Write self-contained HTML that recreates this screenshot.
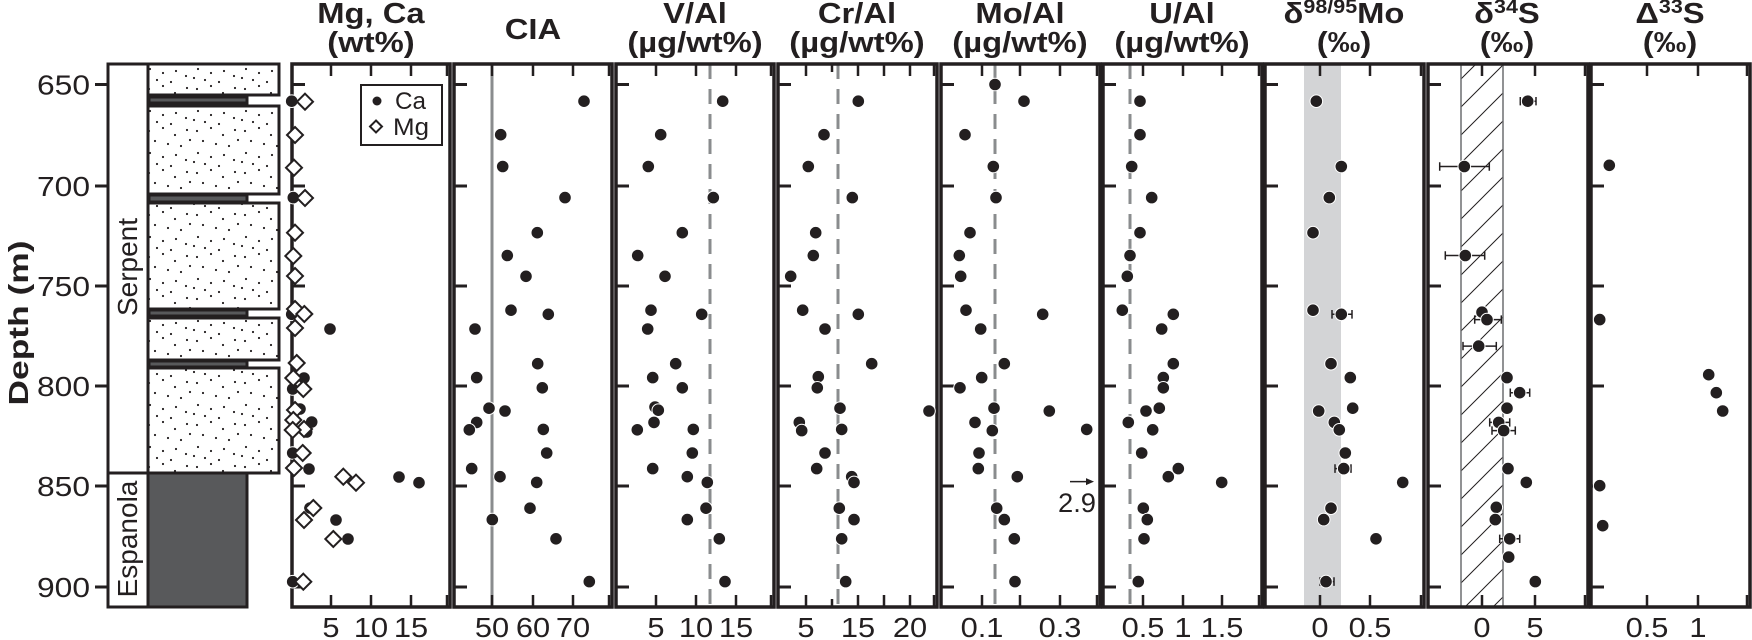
<!DOCTYPE html>
<html><head><meta charset="utf-8"><style>
html,body{margin:0;padding:0;background:#fff;}
svg{display:block;}
text{font-family:"Liberation Sans",Arial,sans-serif;fill:#231f20;}
.t{font-weight:bold;font-size:29px;text-anchor:middle;transform-box:fill-box;transform-origin:center;transform:scaleX(1.13);}
.tk text{font-size:28px;text-anchor:middle;transform-box:fill-box;transform-origin:center;transform:scaleX(1.1);}
.d{fill:#231f20;stroke:#fff;stroke-width:1;}
.m{fill:#fff;stroke:#231f20;stroke-width:2;}
.fr{fill:none;stroke:#231f20;stroke-width:3.5;}
.tick{stroke:#231f20;stroke-width:3;}
.dash{stroke:#8a8c8e;stroke-width:3;stroke-dasharray:15 10;}
.eb{stroke:#231f20;stroke-width:1.5;fill:none;}
</style></head><body>
<svg width="1752" height="640" viewBox="0 0 1752 640" xmlns="http://www.w3.org/2000/svg">
<defs>
<pattern id="dots" width="48" height="42" patternUnits="userSpaceOnUse">
<g fill="#231f20">
<circle cx="5" cy="5" r="1.1"/><circle cx="19" cy="2" r="1.1"/><circle cx="31" cy="9" r="1.1"/><circle cx="43" cy="4" r="1.1"/>
<circle cx="11" cy="15" r="1.1"/><circle cx="24" cy="18" r="1.1"/><circle cx="37" cy="20" r="1.1"/><circle cx="46" cy="14" r="1.1"/>
<circle cx="6" cy="27" r="1.1"/><circle cx="19" cy="31" r="1.1"/><circle cx="32" cy="29" r="1.1"/><circle cx="42" cy="34" r="1.1"/>
<circle cx="13" cy="38" r="1.1"/><circle cx="27" cy="40" r="1.1"/><circle cx="2" cy="36" r="1.1"/>
</g></pattern>
<pattern id="hatch" width="28" height="28" patternUnits="userSpaceOnUse">
<path d="M-7,7 L7,-7 M0,28 L28,0 M21,35 L35,21" stroke="#231f20" stroke-width="1"/>
</pattern>
</defs>

<!-- Depth axis -->
<text x="28" y="323" transform="rotate(-90 28 323)" font-weight="bold" font-size="28" text-anchor="middle" textLength="165" lengthAdjust="spacingAndGlyphs">Depth (m)</text>
<g font-size="28">
<text x="90" y="94.5" textLength="53" lengthAdjust="spacingAndGlyphs" text-anchor="end">650</text>
<text x="90" y="196" textLength="53" lengthAdjust="spacingAndGlyphs" text-anchor="end">700</text>
<text x="90" y="296" textLength="53" lengthAdjust="spacingAndGlyphs" text-anchor="end">750</text>
<text x="90" y="396" textLength="53" lengthAdjust="spacingAndGlyphs" text-anchor="end">800</text>
<text x="90" y="496" textLength="53" lengthAdjust="spacingAndGlyphs" text-anchor="end">850</text>
<text x="90" y="597" textLength="53" lengthAdjust="spacingAndGlyphs" text-anchor="end">900</text>
</g>
<g class="tick">
<line x1="95" y1="84.5" x2="108" y2="84.5"/><line x1="95" y1="186" x2="108" y2="186"/><line x1="95" y1="286" x2="108" y2="286"/>
<line x1="95" y1="386" x2="108" y2="386"/><line x1="95" y1="486" x2="108" y2="486"/><line x1="95" y1="587" x2="108" y2="587"/>
</g>

<!-- Lithology -->
<g stroke="#231f20" stroke-width="3">
<rect x="108" y="64" width="40" height="543" fill="#fff"/>
<line x1="108" y1="473" x2="148" y2="473"/>
<rect x="148" y="64" width="131" height="31" fill="url(#dots)"/>
<rect x="149" y="97" width="98" height="6" fill="#58595b"/>
<rect x="148" y="106" width="131" height="88" fill="url(#dots)"/>
<rect x="149" y="195" width="98" height="7" fill="#58595b"/>
<rect x="148" y="203" width="131" height="106" fill="url(#dots)"/>
<rect x="149" y="310" width="98" height="6" fill="#58595b"/>
<rect x="148" y="318" width="131" height="42" fill="url(#dots)"/>
<rect x="149" y="361" width="98" height="6" fill="#58595b"/>
<rect x="148" y="368" width="131" height="105" fill="url(#dots)"/>
<rect x="148" y="473" width="99" height="134" fill="#58595b"/>
</g>
<text x="137" y="267" transform="rotate(-90 137 267)" font-size="28" text-anchor="middle">Serpent</text>
<text x="137" y="539" transform="rotate(-90 137 539)" font-size="28" text-anchor="middle">Espanola</text>

<!-- Titles -->
<text class="t" x="371" y="23">Mg, Ca</text><text class="t" x="371" y="52">(wt%)</text>
<text class="t" x="533" y="39">CIA</text>
<text class="t" x="695" y="23">V/Al</text><text class="t" x="695" y="52">(µg/wt%)</text>
<text class="t" x="857" y="23">Cr/Al</text><text class="t" x="857" y="52">(µg/wt%)</text>
<text class="t" x="1020" y="23">Mo/Al</text><text class="t" x="1020" y="52">(µg/wt%)</text>
<text class="t" x="1182" y="23">U/Al</text><text class="t" x="1182" y="52">(µg/wt%)</text>
<text class="t" x="1344" y="23">δ<tspan font-size="19" dy="-10">98/95</tspan><tspan dy="10">Mo</tspan></text><text class="t" x="1344" y="52">(‰)</text>
<text class="t" x="1507" y="23">δ<tspan font-size="19" dy="-10">34</tspan><tspan dy="10">S</tspan></text><text class="t" x="1507" y="52">(‰)</text>
<text class="t" x="1670" y="23">Δ<tspan font-size="19" dy="-10">33</tspan><tspan dy="10">S</tspan></text><text class="t" x="1670" y="52">(‰)</text>

<!-- Backgrounds: bands -->
<rect x="1304" y="64" width="37" height="543" fill="#d3d4d6"/>
<rect x="1461" y="64" width="42" height="543" fill="url(#hatch)"/>
<line x1="1461" y1="64" x2="1461" y2="607" stroke="#6d6e71" stroke-width="1.5"/>
<line x1="1503" y1="64" x2="1503" y2="607" stroke="#6d6e71" stroke-width="1.5"/>
<line x1="492" y1="64" x2="492" y2="607" stroke="#8a8c8e" stroke-width="3"/>
<line class="dash" x1="710" y1="64" x2="710" y2="607"/>
<line class="dash" x1="838" y1="64" x2="838" y2="607"/>
<line class="dash" x1="995" y1="64" x2="995" y2="607"/>
<line class="dash" x1="1130" y1="64" x2="1130" y2="607"/>

<!-- Frames -->
<g class="fr">
<rect x="292" y="64" width="158" height="543"/>
<rect x="454" y="64" width="158" height="543"/>
<rect x="616" y="64" width="158" height="543"/>
<rect x="778" y="64" width="159" height="543"/>
<rect x="941" y="64" width="159" height="543"/>
<rect x="1103" y="64" width="159" height="543"/>
<rect x="1265" y="64" width="159" height="543"/>
<rect x="1428" y="64" width="160" height="543"/>
<rect x="1591" y="64" width="159" height="543"/>
</g>

<!-- y ticks inside panels -->
<path d="M292,84.5h13M292,186h13M292,286h13M292,386h13M292,486h13M292,587h13
M454,84.5h13M454,186h13M454,286h13M454,386h13M454,486h13M454,587h13
M616,84.5h13M616,186h13M616,286h13M616,386h13M616,486h13M616,587h13
M778,84.5h13M778,186h13M778,286h13M778,386h13M778,486h13M778,587h13
M941,84.5h13M941,186h13M941,286h13M941,386h13M941,486h13M941,587h13
M1103,84.5h13M1103,186h13M1103,286h13M1103,386h13M1103,486h13M1103,587h13
M1265,84.5h13M1265,186h13M1265,286h13M1265,386h13M1265,486h13M1265,587h13
M1428,84.5h13M1428,186h13M1428,286h13M1428,386h13M1428,486h13M1428,587h13
M1591,84.5h13M1591,186h13M1591,286h13M1591,386h13M1591,486h13M1591,587h13" stroke="#231f20" stroke-width="3"/>
<!-- x ticks top & bottom -->
<path stroke="#231f20" stroke-width="2.5" d="
M331,64v12M371,64v12M411,64v12M447,64v12M331,607v-12M371,607v-12M411,607v-12M447,607v-12
M492,64v12M533,64v12M573,64v12M609,64v12M492,607v-12M533,607v-12M573,607v-12M609,607v-12
M656,64v12M696,64v12M736,64v12M771,64v12M656,607v-12M696,607v-12M736,607v-12M771,607v-12
M806,64v12M832,64v8M858,64v12M884,64v12M910,64v12M934,64v12M806,607v-12M832,607v-8M858,607v-12M884,607v-12M910,607v-12M934,607v-12
M982,64v12M1020,64v12M1060,64v12M1097,64v12M982,607v-12M1020,607v-12M1060,607v-12M1097,607v-12
M1143,64v12M1183,64v12M1222,64v12M1259,64v12M1143,607v-12M1183,607v-12M1222,607v-12M1259,607v-12
M1320,64v12M1370,64v12M1421,64v12M1320,607v-12M1370,607v-12M1421,607v-12
M1482,64v12M1535,64v12M1585,64v12M1482,607v-12M1535,607v-12M1585,607v-12
M1647,64v12M1698,64v12M1747,64v12M1647,607v-12M1698,607v-12M1747,607v-12"/>

<!-- x tick labels -->
<g class="tk">
<text x="331" y="637">5</text><text x="371" y="637">10</text><text x="411" y="637">15</text>
<text x="492" y="637">50</text><text x="533" y="637">60</text><text x="573" y="637">70</text>
<text x="656" y="637">5</text><text x="696" y="637">10</text><text x="736" y="637">15</text>
<text x="806" y="637">5</text><text x="858" y="637">15</text><text x="910" y="637">20</text>
<text x="982" y="637">0.1</text><text x="1060" y="637">0.3</text>
<text x="1143" y="637">0.5</text><text x="1183" y="637">1</text><text x="1222" y="637">1.5</text>
<text x="1320" y="637">0</text><text x="1370" y="637">0.5</text>
<text x="1482" y="637">0</text><text x="1535" y="637">5</text>
<text x="1647" y="637">0.5</text><text x="1698" y="637">1</text>
</g>

<!-- Panel 1 -->
<g class="d">
<circle cx="291.7" cy="101.2" r="6.3"/><circle cx="293.3" cy="197.6" r="6.3"/><circle cx="291.7" cy="314.3" r="6.3"/><circle cx="330" cy="329" r="6.3"/>
<circle cx="292.7" cy="389" r="6.3"/><circle cx="304" cy="378" r="6.3"/><circle cx="300" cy="409" r="6.3"/><circle cx="311.7" cy="422" r="6.3"/>
<circle cx="306.7" cy="432" r="6.3"/><circle cx="292.7" cy="453" r="6.3"/><circle cx="309" cy="469" r="6.3"/><circle cx="399" cy="477" r="6.3"/>
<circle cx="419" cy="482.7" r="6.3"/><circle cx="310" cy="508" r="6.3"/><circle cx="336" cy="520" r="6.3"/><circle cx="348" cy="539" r="6.3"/>
<circle cx="292.7" cy="581.7" r="6.3"/>
</g>
<g class="m">
<path d="M305,93.7l8,8l-8,8l-8,-8z"/><path d="M295,127l8,8l-8,8l-8,-8z"/><path d="M294,159.7l8,8l-8,8l-8,-8z"/><path d="M305,190l8,8l-8,8l-8,-8z"/>
<path d="M295,224.7l8,8l-8,8l-8,-8z"/><path d="M293.3,248l8,8l-8,8l-8,-8z"/><path d="M295,268l8,8l-8,8l-8,-8z"/><path d="M295,301l8,8l-8,8l-8,-8z"/>
<path d="M304.3,306l8,8l-8,8l-8,-8z"/><path d="M295,320l8,8l-8,8l-8,-8z"/><path d="M296.7,355l8,8l-8,8l-8,-8z"/><path d="M293.3,370l8,8l-8,8l-8,-8z"/>
<path d="M303.3,381l8,8l-8,8l-8,-8z"/><path d="M295,402l8,8l-8,8l-8,-8z"/><path d="M293.3,412l8,8l-8,8l-8,-8z"/><path d="M304,421l8,8l-8,8l-8,-8z"/>
<path d="M292.7,422l8,8l-8,8l-8,-8z"/><path d="M302.7,445l8,8l-8,8l-8,-8z"/><path d="M294,460l8,8l-8,8l-8,-8z"/><path d="M343.3,468.7l8,8l-8,8l-8,-8z"/>
<path d="M356,474.7l8,8l-8,8l-8,-8z"/><path d="M313.3,500l8,8l-8,8l-8,-8z"/><path d="M304,512l8,8l-8,8l-8,-8z"/><path d="M333.3,531l8,8l-8,8l-8,-8z"/>
<path d="M303.3,573.7l8,8l-8,8l-8,-8z"/>
</g>
<!-- legend -->
<rect x="361" y="85" width="81" height="60" fill="#fff" stroke="#231f20" stroke-width="2"/>
<circle cx="377" cy="101" r="4.5" fill="#231f20"/>
<path d="M376,120.5l6,6l-6,6l-6,-6z" fill="#fff" stroke="#231f20" stroke-width="2"/>
<text x="395" y="109" font-size="24" textLength="31" lengthAdjust="spacingAndGlyphs">Ca</text>
<text x="393" y="135" font-size="24" textLength="36" lengthAdjust="spacingAndGlyphs">Mg</text>

<!-- Panel 2 -->
<g class="d">
<circle cx="584" cy="101.2" r="6.3"/><circle cx="500.7" cy="134.7" r="6.3"/><circle cx="502.7" cy="166.5" r="6.3"/><circle cx="565" cy="197.6" r="6.3"/>
<circle cx="537.3" cy="232.7" r="6.3"/><circle cx="507.3" cy="255.5" r="6.3"/><circle cx="526" cy="276.3" r="6.3"/><circle cx="511" cy="310.2" r="6.3"/>
<circle cx="548.3" cy="314.3" r="6.3"/><circle cx="475" cy="329" r="6.3"/><circle cx="537.7" cy="363.7" r="6.3"/><circle cx="476.7" cy="377.6" r="6.3"/>
<circle cx="542.3" cy="387.8" r="6.3"/><circle cx="489" cy="408.2" r="6.3"/><circle cx="505" cy="411" r="6.3"/><circle cx="476.7" cy="422.4" r="6.3"/>
<circle cx="469.3" cy="429.8" r="6.3"/><circle cx="543.3" cy="429.4" r="6.3"/><circle cx="546.7" cy="453" r="6.3"/><circle cx="471.7" cy="468.6" r="6.3"/>
<circle cx="500" cy="476.7" r="6.3"/><circle cx="536.7" cy="482.4" r="6.3"/><circle cx="530" cy="508.2" r="6.3"/><circle cx="492.3" cy="519.6" r="6.3"/>
<circle cx="556" cy="538.8" r="6.3"/><circle cx="589.3" cy="581.6" r="6.3"/>
</g>
<!-- Panel 3 -->
<g class="d">
<circle cx="722.7" cy="101.2" r="6.3"/><circle cx="660.7" cy="134.7" r="6.3"/><circle cx="648.3" cy="166.5" r="6.3"/><circle cx="713.3" cy="197.6" r="6.3"/>
<circle cx="682.3" cy="232.7" r="6.3"/><circle cx="637.7" cy="255.5" r="6.3"/><circle cx="665" cy="276.3" r="6.3"/><circle cx="651" cy="310.2" r="6.3"/>
<circle cx="701.7" cy="314.3" r="6.3"/><circle cx="647.7" cy="329" r="6.3"/><circle cx="675.7" cy="363.7" r="6.3"/><circle cx="652.7" cy="377.6" r="6.3"/>
<circle cx="682.3" cy="387.8" r="6.3"/><circle cx="655" cy="407" r="6.3"/><circle cx="658.3" cy="410.2" r="6.3"/><circle cx="654" cy="422.4" r="6.3"/>
<circle cx="637.3" cy="429.8" r="6.3"/><circle cx="693.3" cy="429.4" r="6.3"/><circle cx="692.3" cy="453" r="6.3"/><circle cx="652.7" cy="468.6" r="6.3"/>
<circle cx="687.3" cy="476.7" r="6.3"/><circle cx="707.3" cy="482.4" r="6.3"/><circle cx="706" cy="508.2" r="6.3"/><circle cx="687.3" cy="519.6" r="6.3"/>
<circle cx="719.3" cy="538.8" r="6.3"/><circle cx="725" cy="581.6" r="6.3"/>
</g>
<!-- Panel 4 -->
<g class="d">
<circle cx="858.3" cy="101.2" r="6.3"/><circle cx="824" cy="134.7" r="6.3"/><circle cx="808.3" cy="166.5" r="6.3"/><circle cx="852.3" cy="197.6" r="6.3"/>
<circle cx="815.7" cy="232.7" r="6.3"/><circle cx="813.3" cy="255.5" r="6.3"/><circle cx="790.7" cy="276.3" r="6.3"/><circle cx="802.7" cy="310.2" r="6.3"/>
<circle cx="858.3" cy="314.3" r="6.3"/><circle cx="825" cy="329" r="6.3"/><circle cx="871.7" cy="363.7" r="6.3"/><circle cx="818.3" cy="376.7" r="6.3"/>
<circle cx="817.3" cy="387.8" r="6.3"/><circle cx="840" cy="408.2" r="6.3"/><circle cx="929" cy="411" r="6.3"/><circle cx="799.3" cy="422.4" r="6.3"/>
<circle cx="801.7" cy="430.6" r="6.3"/><circle cx="841.7" cy="429.4" r="6.3"/><circle cx="825" cy="453" r="6.3"/><circle cx="816.7" cy="468.6" r="6.3"/>
<circle cx="851.7" cy="476.7" r="6.3"/><circle cx="854" cy="482.4" r="6.3"/><circle cx="839.3" cy="508.2" r="6.3"/><circle cx="854" cy="519.6" r="6.3"/>
<circle cx="841.7" cy="538.8" r="6.3"/><circle cx="845.7" cy="581.6" r="6.3"/>
</g>
<!-- Panel 5 -->
<g class="d">
<circle cx="995" cy="84.5" r="6.3"/><circle cx="1024" cy="101.2" r="6.3"/><circle cx="965" cy="134.7" r="6.3"/><circle cx="993.3" cy="166.5" r="6.3"/>
<circle cx="996" cy="197.6" r="6.3"/><circle cx="970" cy="232.7" r="6.3"/><circle cx="959.3" cy="255.5" r="6.3"/><circle cx="960.7" cy="276.3" r="6.3"/>
<circle cx="966" cy="310.2" r="6.3"/><circle cx="1042.7" cy="314.3" r="6.3"/><circle cx="980.7" cy="329" r="6.3"/><circle cx="1004.3" cy="363.7" r="6.3"/>
<circle cx="981.7" cy="377.6" r="6.3"/><circle cx="960" cy="387.8" r="6.3"/><circle cx="994" cy="408.2" r="6.3"/><circle cx="1049.3" cy="411" r="6.3"/>
<circle cx="975" cy="422.4" r="6.3"/><circle cx="992.3" cy="430.6" r="6.3"/><circle cx="1086.7" cy="429.4" r="6.3"/><circle cx="979" cy="453" r="6.3"/>
<circle cx="978.3" cy="468.6" r="6.3"/><circle cx="1017.3" cy="476.7" r="6.3"/><circle cx="996.7" cy="508.2" r="6.3"/><circle cx="1004.3" cy="519.6" r="6.3"/>
<circle cx="1014.3" cy="538.8" r="6.3"/><circle cx="1015" cy="581.6" r="6.3"/>
</g>
<line x1="1070" y1="481.6" x2="1088" y2="481.6" stroke="#231f20" stroke-width="1.5"/>
<path d="M1094,481.6l-8,-3.5v7z" fill="#231f20"/>
<text x="1077" y="512" font-size="27" text-anchor="middle" textLength="38" lengthAdjust="spacingAndGlyphs">2.9</text>
<!-- Panel 6 -->
<g class="d">
<circle cx="1140" cy="101.2" r="6.3"/><circle cx="1140" cy="134.7" r="6.3"/><circle cx="1131.7" cy="166.5" r="6.3"/><circle cx="1151.7" cy="197.6" r="6.3"/>
<circle cx="1140" cy="232.7" r="6.3"/><circle cx="1130" cy="255.5" r="6.3"/><circle cx="1127.3" cy="276.3" r="6.3"/><circle cx="1122.3" cy="310.2" r="6.3"/>
<circle cx="1173.3" cy="314.3" r="6.3"/><circle cx="1161.7" cy="329" r="6.3"/><circle cx="1173.3" cy="363.7" r="6.3"/><circle cx="1163.3" cy="377.6" r="6.3"/>
<circle cx="1163.3" cy="387.8" r="6.3"/><circle cx="1159.3" cy="408.2" r="6.3"/><circle cx="1146" cy="411" r="6.3"/><circle cx="1128.3" cy="422.4" r="6.3"/>
<circle cx="1152.7" cy="429.8" r="6.3"/><circle cx="1141.7" cy="453" r="6.3"/><circle cx="1178.3" cy="468.6" r="6.3"/><circle cx="1168.3" cy="476.7" r="6.3"/>
<circle cx="1221.7" cy="482.4" r="6.3"/><circle cx="1143.3" cy="508.2" r="6.3"/><circle cx="1147.3" cy="519.6" r="6.3"/><circle cx="1144" cy="538.8" r="6.3"/>
<circle cx="1138.3" cy="581.6" r="6.3"/>
</g>
<!-- Panel 7 -->
<path class="eb" d="M1332,314.3h20M1332,310v8.6M1352,310v8.6M1335,468.6h16M1335,464.3v8.6M1351,464.3v8.6M1320,581.6h14M1320,577.3v8.6M1334,577.3v8.6"/>
<g class="d">
<circle cx="1316.3" cy="101.2" r="6.3"/><circle cx="1341.3" cy="166.5" r="6.3"/><circle cx="1329.3" cy="197.6" r="6.3"/><circle cx="1313" cy="232.7" r="6.3"/>
<circle cx="1313" cy="310.2" r="6.3"/><circle cx="1341.3" cy="314.3" r="6.3"/><circle cx="1331" cy="363.7" r="6.3"/><circle cx="1350.3" cy="377.6" r="6.3"/>
<circle cx="1352.7" cy="408.2" r="6.3"/><circle cx="1318.7" cy="411" r="6.3"/><circle cx="1334.3" cy="422.4" r="6.3"/><circle cx="1339.3" cy="429.8" r="6.3"/>
<circle cx="1345.3" cy="453" r="6.3"/><circle cx="1343.7" cy="468.6" r="6.3"/><circle cx="1402.7" cy="482.4" r="6.3"/><circle cx="1331" cy="508.2" r="6.3"/>
<circle cx="1323.7" cy="519.6" r="6.3"/><circle cx="1376" cy="538.8" r="6.3"/><circle cx="1326" cy="581.6" r="6.3"/>
</g>
<!-- Panel 8 -->
<path class="eb" d="M1520.3,101.2h15.7M1520.3,97v8.4M1536,97v8.4
M1439.7,166.5h49.6M1439.7,162.3v8.4M1489.3,162.3v8.4
M1445.3,255.5h39.4M1445.3,251.3v8.4M1484.7,251.3v8.4
M1474.7,319.6h26.6M1474.7,315.4v8.4M1501.3,315.4v8.4
M1463,346.1h33.3M1463,341.9v8.4M1496.3,341.9v8.4
M1510.3,392.7h19.4M1510.3,388.5v8.4M1529.7,388.5v8.4
M1489.7,422.4h20M1489.7,418.2v8.4M1509.7,418.2v8.4
M1492,430.6h23.3M1492,426.4v8.4M1515.3,426.4v8.4
M1499.7,538.8h20M1499.7,534.6v8.4M1519.7,534.6v8.4"/>
<g class="d">
<circle cx="1527.7" cy="101.2" r="6.3"/><circle cx="1464.3" cy="166.5" r="6.3"/><circle cx="1465.3" cy="255.5" r="6.3"/><circle cx="1482" cy="312.2" r="6.3"/>
<circle cx="1487" cy="319.6" r="6.3"/><circle cx="1478.7" cy="346.1" r="6.3"/><circle cx="1507" cy="377.6" r="6.3"/><circle cx="1519.7" cy="392.7" r="6.3"/>
<circle cx="1507" cy="408.2" r="6.3"/><circle cx="1498.7" cy="422.4" r="6.3"/><circle cx="1503.7" cy="430.6" r="6.3"/><circle cx="1508" cy="468.6" r="6.3"/>
<circle cx="1526.3" cy="482.4" r="6.3"/><circle cx="1496.3" cy="507.3" r="6.3"/><circle cx="1495.3" cy="519.6" r="6.3"/><circle cx="1509.7" cy="538.8" r="6.3"/>
<circle cx="1508.7" cy="557.1" r="6.3"/><circle cx="1535.3" cy="581.6" r="6.3"/>
</g>
<!-- Panel 9 -->
<g class="d">
<circle cx="1609.3" cy="165.3" r="6.3"/><circle cx="1599.7" cy="319.6" r="6.3"/><circle cx="1708.7" cy="374.7" r="6.3"/><circle cx="1716.3" cy="392.7" r="6.3"/>
<circle cx="1722.7" cy="411" r="6.3"/><circle cx="1599.7" cy="485.7" r="6.3"/><circle cx="1602.7" cy="525.7" r="6.3"/>
</g>
</svg>
</body></html>
